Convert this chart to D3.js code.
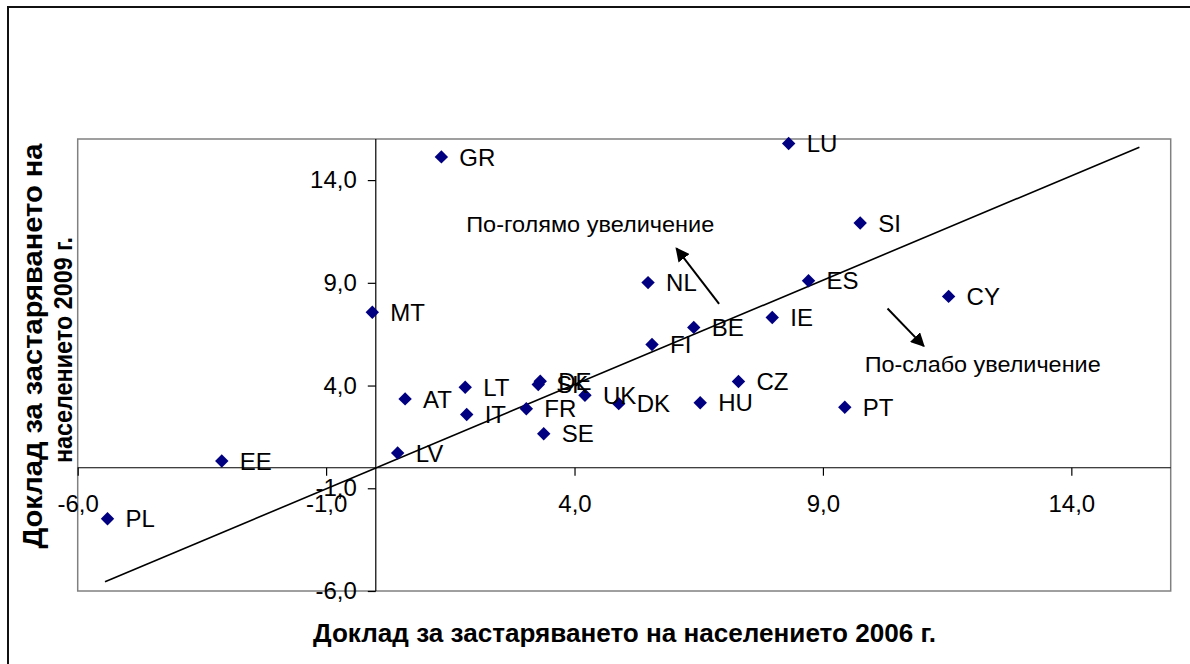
<!DOCTYPE html>
<html><head><meta charset="utf-8">
<script src="https://cdn.jsdelivr.net/npm/d3@7"></script>
<style>
html,body{margin:0;padding:0;background:#fff;}
svg text{font-family:"Liberation Sans",Arial,sans-serif;}
</style></head>
<body><svg id="c" width="1190" height="664"></svg>
<script>
const countries = ["PL","EE","LV","AT","LT","IT","FR","SE","SK","DE","UK","DK","HU","CZ","FI","BE","IE","NL","MT","GR","LU","SI","ES","CY","PT"];
const report2006 = [-5.40,-3.10,0.44,0.59,1.80,1.83,3.03,3.38,3.27,3.31,4.21,4.89,6.53,7.30,5.56,6.40,7.98,5.48,-0.07,1.32,8.31,9.75,8.71,11.53,9.44];
const report2009 = [-2.48,0.33,0.72,3.35,3.92,2.59,2.87,1.65,4.05,4.21,3.53,3.12,3.16,4.20,6.00,6.83,7.31,9.01,7.57,15.13,15.78,11.91,9.10,8.34,2.94];
const tickValues = [-6,-1,4,9,14];
const tickLabels = ["-6,0","-1,0","4,0","9,0","14,0"];
const refLineX = [-5.45, 15.37];
const refLineY = [-5.55, 15.6];
const notes = ["По-голямо увеличение","По-слабо увеличение"];
const noteX = [1.82, 9.84];
const noteY = [11.47, 4.67];
const arrowFromX = [6.91, 10.30], arrowFromY = [7.98, 7.75];
const arrowToX = [6.05, 11.03], arrowToY = [10.68, 5.92];
const xTitle = "Доклад за застаряването на населението 2006 г.";
const yTitle = ["Доклад за застаряването на","населението 2009 г."];

const svg = d3.select("#c");
const L = 77.7, R = 1170.7, T = 139, B = 591;
const x = d3.scaleLinear().domain([-6,16]).range([L,R]);
const y = d3.scaleLinear().domain([-6,16]).range([B,T]);

// outer border
svg.append("rect").attr("x",8).attr("y",7).attr("width",1200).attr("height",700)
  .attr("fill","none").attr("stroke","#111").attr("stroke-width",2);
// plot area border
svg.append("rect").attr("x",L).attr("y",T).attr("width",R-L).attr("height",B-T)
  .attr("fill","none").attr("stroke","#808080").attr("stroke-width",1.5);

// axes
const fmt = d => tickLabels[tickValues.indexOf(d)];
const xAxis = d3.axisBottom(x).tickValues(tickValues).tickFormat(fmt).tickSize(8).tickPadding(19);
const yAxis = d3.axisLeft(y).tickValues(tickValues).tickFormat(fmt).tickSize(8).tickPadding(11);
const gx = svg.append("g").attr("transform",`translate(0,${y(0)})`).call(xAxis);
const gy = svg.append("g").attr("transform",`translate(${x(0)},0)`).call(yAxis);
[gx,gy].forEach(g=>{
  g.select(".domain").attr("stroke","#000").attr("stroke-width",1.2);
  g.selectAll(".tick line").attr("stroke","#000").attr("stroke-width",1.2);
  g.selectAll(".tick text").attr("font-size",24).attr("fill","#000")
    .attr("font-family","'Liberation Sans',Arial,sans-serif");
});
gx.select(".domain").attr("d",`M${L},0H${R}`);
gy.select(".domain").attr("d",`M0,${T}V${B}`);

// reference line
svg.append("line").attr("x1",x(refLineX[0])).attr("y1",y(refLineY[0]))
  .attr("x2",x(refLineX[1])).attr("y2",y(refLineY[1]))
  .attr("stroke","#000").attr("stroke-width",1.6);

// points
const data = countries.map((c,i)=>({c, a:report2006[i], b:report2009[i]}));
const sym = d3.symbol().type(d3.symbolSquare).size(90);
svg.append("g").selectAll("path").data(data).join("path")
  .attr("d",sym).attr("fill","#000080")
  .attr("transform",d=>`translate(${x(d.a)},${y(d.b)}) rotate(45)`);
svg.append("g").selectAll("text").data(data).join("text")
  .attr("x",d=>x(d.a)+18).attr("y",d=>y(d.b)).attr("dy","0.36em")
  .attr("font-size",24).attr("fill","#000").text(d=>d.c);

// annotations
const noteLen = [248, 236];
const defs = svg.append("defs");
defs.append("marker").attr("id","ah").attr("viewBox","0 0 10 10").attr("refX",9).attr("refY",5)
  .attr("markerWidth",7).attr("markerHeight",7).attr("orient","auto")
  .append("path").attr("d","M0,0L10,5L0,10Z").attr("fill","#000");
notes.forEach((t,i)=>{
  svg.append("text").attr("x",x(noteX[i])).attr("y",y(noteY[i])).attr("font-size",22)
    .attr("textLength",noteLen[i]).attr("lengthAdjust","spacingAndGlyphs")
    .attr("fill","#000").text(t);
  svg.append("line").attr("x1",x(arrowFromX[i])).attr("y1",y(arrowFromY[i]))
    .attr("x2",x(arrowToX[i])).attr("y2",y(arrowToY[i]))
    .attr("stroke","#000").attr("stroke-width",2).attr("marker-end","url(#ah)");
});

// titles
svg.append("text").attr("x",624.5).attr("y",642).attr("text-anchor","middle")
  .attr("font-size",26).attr("font-weight","bold")
  .attr("textLength",623).attr("lengthAdjust","spacingAndGlyphs").text(xTitle);
svg.append("text").attr("transform","translate(42,346) rotate(-90)")
  .attr("text-anchor","middle").attr("font-size",27).attr("font-weight","bold")
  .attr("textLength",405).attr("lengthAdjust","spacingAndGlyphs").text(yTitle[0]);
svg.append("text").attr("transform","translate(72,350) rotate(-90)")
  .attr("text-anchor","middle").attr("font-size",25).attr("font-weight","bold")
  .attr("textLength",226).attr("lengthAdjust","spacingAndGlyphs").text(yTitle[1]);
</script></body></html>
